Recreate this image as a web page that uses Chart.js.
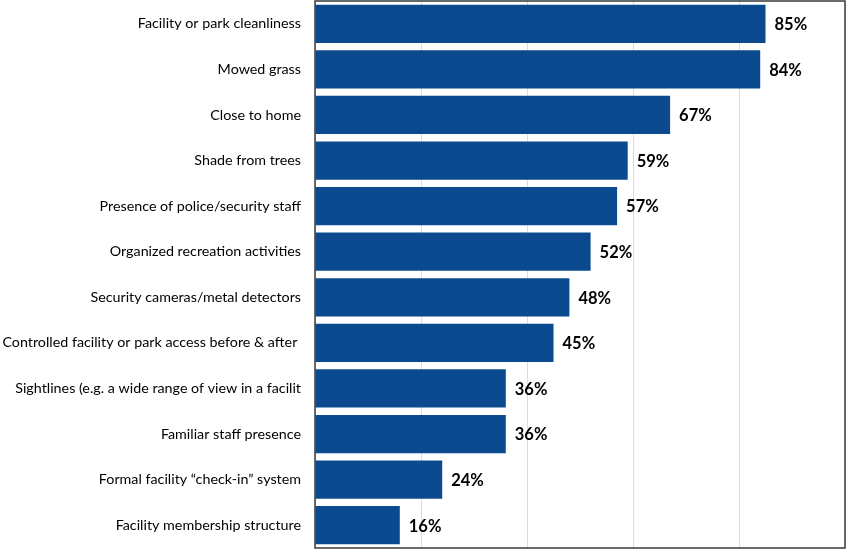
<!DOCTYPE html>
<html>
<head>
<meta charset="utf-8">
<script src="https://cdn.jsdelivr.net/npm/chart.js@4"></script>
<style>
  html, body { margin: 0; padding: 0; background: #fff; }
  #wrap { width: 866px; height: 552px; }
</style>
</head>
<body>
<div id="wrap"><canvas id="myChart" width="866" height="552"></canvas></div>
<script>
const labels = [
  "Facility or park cleanliness",
  "Mowed grass",
  "Close to home",
  "Shade from trees",
  "Presence of police/security staff",
  "Organized recreation activities",
  "Security cameras/metal detectors",
  "Controlled facility or park access before & after ",
  "Sightlines (e.g. a wide range of view in a facilit",
  "Familiar staff presence",
  "Formal facility \u201ccheck-in\u201d system",
  "Facility membership structure",
];
const values = [85, 84, 67, 59, 57, 52, 48, 45, 36, 36, 24, 16];
const xTicks = [0, 20, 40, 60, 80, 100];

const barColor = "#0b4a8e";

// percentage text just past the end of every bar
const valueLabels = {
  id: "valueLabels",
  afterDatasetsDraw(chart) {
    const ctx = chart.ctx;
    const meta = chart.getDatasetMeta(0);
    ctx.save();
    ctx.fillStyle = "#000";
    ctx.font = "bold 16.5px Lato, 'Open Sans', sans-serif";
    ctx.textAlign = "left";
    ctx.textBaseline = "middle";
    meta.data.forEach((bar, i) => {
      ctx.fillText(values[i] + "%", bar.x + 9, bar.y + 1);
    });
    ctx.restore();
  },
};

// box round the plot area
const frame = {
  id: "frame",
  afterDraw(chart) {
    const a = chart.chartArea;
    const ctx = chart.ctx;
    ctx.save();
    ctx.strokeStyle = "#3a3a3a";
    ctx.lineWidth = 1.5;
    ctx.strokeRect(a.left, a.top, a.right - a.left, a.bottom - a.top);
    ctx.restore();
  },
};

const chart = document.getElementById("myChart");
window.myChart = new Chart(chart, {
  type: "bar",
  data: {
    labels,
    datasets: [
      {
        data: values,
        backgroundColor: barColor,
        borderWidth: 0,
        barPercentage: 0.84,
        categoryPercentage: 1,
      },
    ],
  },
  options: {
    indexAxis: "y",
    responsive: false,
    animation: false,
    layout: { padding: { left: 0, right: 21, top: 1, bottom: 4 } },
    plugins: {
      legend: { display: false },
      tooltip: { enabled: false },
    },
    scales: {
      x: {
        min: 0,
        max: 100,
        afterBuildTicks(scale) {
          scale.ticks = xTicks.map((v) => ({ value: v }));
        },
        afterFit(scale) {
          scale.height = 0;
          scale.paddingLeft = 0;
          scale.paddingRight = 0;
        },
        ticks: { display: false },
        grid: { color: "#dcdcdc", drawTicks: false },
        border: { display: false },
      },
      y: {
        afterFit(scale) {
          scale.width = 315;
          scale.paddingTop = 0;
          scale.paddingBottom = 0;
        },
        ticks: {
          color: "#000",
          padding: 14,
          autoSkip: false,
          font: { family: "Lato, 'Open Sans', sans-serif", size: 14.3 },
        },
        grid: { display: false, drawTicks: false },
        border: { display: false },
      },
    },
  },
  plugins: [valueLabels, frame],
});
</script>
</body>
</html>
